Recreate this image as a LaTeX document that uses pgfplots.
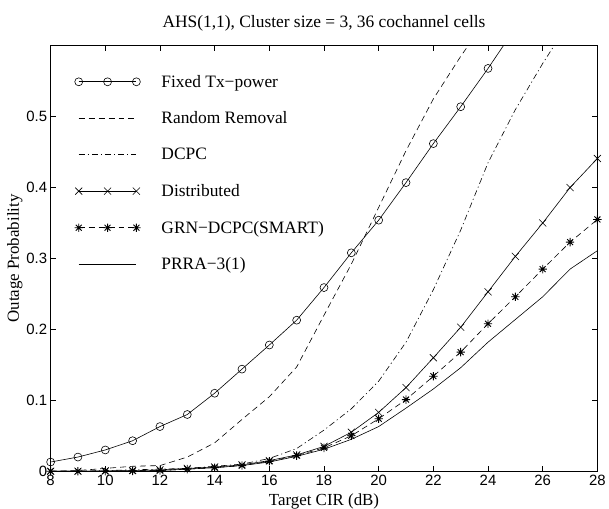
\documentclass[border=0pt]{standalone}
\usepackage{fontspec}
\setmainfont{Liberation Serif}
\setsansfont{Liberation Sans}
\usepackage{pgfplots}
\pgfplotsset{compat=1.18}
\pgfdeclareplotmark{mstar}{%
 \pgfpathmoveto{\pgfqpoint{\pgfplotmarksize}{0pt}}\pgfpathlineto{\pgfqpoint{-\pgfplotmarksize}{0pt}}%
 \pgfpathmoveto{\pgfqpoint{0pt}{\pgfplotmarksize}}\pgfpathlineto{\pgfqpoint{0pt}{-\pgfplotmarksize}}%
 \pgfpathmoveto{\pgfqpoint{0.707\pgfplotmarksize}{0.707\pgfplotmarksize}}\pgfpathlineto{\pgfqpoint{-0.707\pgfplotmarksize}{-0.707\pgfplotmarksize}}%
 \pgfpathmoveto{\pgfqpoint{-0.707\pgfplotmarksize}{0.707\pgfplotmarksize}}\pgfpathlineto{\pgfqpoint{0.707\pgfplotmarksize}{-0.707\pgfplotmarksize}}%
 \pgfusepathqstroke}
\begin{document}
\begin{tikzpicture}
\begin{axis}[
  scale only axis, width=550pt, height=428pt,
  xmin=8, xmax=28, ymin=0, ymax=0.6,
  xtick={8,10,12,14,16,18,20,22,24,26,28},
  ytick={0,0.1,0.2,0.3,0.4,0.5},
  tick align=inside, major tick length=5pt,
  tick style={black, line width=0.5pt},
  axis line style={black, line width=0.6pt},
  /pgf/number format/assume math mode=true,
  ticklabel style={font=\fontsize{15}{17}\sffamily},
  title={\rule{0pt}{28pt}AHS(1,1), Cluster size = 3, 36 cochannel cells},
  title style={font=\fontsize{17.5}{20}\selectfont, at={(axis description cs:0.5,1)}, anchor=base, yshift=12pt, inner sep=0pt},
  xlabel={Target CIR (dB)},
  ylabel={\rule{0pt}{19pt}Outage Probability},
  label style={font=\fontsize{17}{20}\selectfont},
  xlabel style={at={(axis description cs:0.5,0)}, anchor=base, yshift=-34pt, inner sep=0pt},
  ylabel style={at={(axis description cs:-0.058,0.5)}, anchor=base, inner sep=0pt},
  legend cell align=left,
  legend style={at={(axis description cs:0.038,0.941)}, anchor=north west,
    draw=none, fill=none, row sep=19.2pt, column sep=19pt,
    font=\fontsize{17.5}{20}\selectfont},
  legend image code/.code={\draw[mark repeat=1,mark phase=1,#1] plot coordinates {(0pt,0pt) (29pt,0pt) (58pt,0pt)};},
  every axis plot/.append style={black, line width=0.6pt},
]
\addplot[mark=o, mark size=4pt, mark options={solid}] coordinates {
(8,0.013)(9,0.020)(10,0.030)(11,0.043)(12,0.063)(13,0.080)(14,0.110)(15,0.144)(16,0.178)(17,0.213)(18,0.259)(19,0.308)(20,0.354)(21,0.407)(22,0.462)(23,0.514)(24,0.568)(25,0.625)};
\addlegendentry{Fixed Tx−power}
\addplot[mark=none, dash pattern=on 6pt off 4pt] coordinates {
(8,0)(9,0.001)(10,0.004)(11,0.007)(12,0.008)(13,0.020)(14,0.040)(15,0.073)(16,0.105)(17,0.147)(18,0.220)(19,0.292)(20,0.372)(21,0.452)(22,0.525)(23,0.585)(24,0.640)};
\addlegendentry{Random Removal}
\addplot[mark=none, dash pattern=on 6pt off 3pt on 1.2pt off 3pt] coordinates {
(8,0)(9,0)(10,0.001)(11,0.002)(12,0.003)(13,0.004)(14,0.007)(15,0.010)(16,0.018)(17,0.032)(18,0.058)(19,0.088)(20,0.127)(21,0.182)(22,0.256)(23,0.340)(24,0.435)(25,0.510)(26,0.575)(27,0.635)};
\addlegendentry{DCPC}
\addplot[mark=x, mark size=5pt, mark options={solid}] coordinates {
(8,0)(9,0)(10,0.0005)(11,0.001)(12,0.002)(13,0.004)(14,0.006)(15,0.009)(16,0.015)(17,0.023)(18,0.035)(19,0.055)(20,0.083)(21,0.118)(22,0.160)(23,0.203)(24,0.253)(25,0.303)(26,0.350)(27,0.400)(28,0.441)};
\addlegendentry{Distributed}
\addplot[dash pattern=on 6pt off 4pt, mark=mstar, mark size=4.2pt, mark options={solid, line width=0.9pt}] coordinates {
(8,0)(9,0)(10,0)(11,0.0005)(12,0.001)(13,0.003)(14,0.005)(15,0.008)(16,0.014)(17,0.022)(18,0.033)(19,0.050)(20,0.074)(21,0.101)(22,0.134)(23,0.168)(24,0.208)(25,0.246)(26,0.285)(27,0.323)(28,0.355)};
\addlegendentry{GRN−DCPC(SMART)}
\addplot[mark=none, solid] coordinates {
(8,0)(9,0)(10,0)(11,0)(12,0.001)(13,0.003)(14,0.005)(15,0.008)(16,0.013)(17,0.021)(18,0.031)(19,0.045)(20,0.063)(21,0.089)(22,0.116)(23,0.146)(24,0.182)(25,0.214)(26,0.246)(27,0.285)(28,0.311)};
\addlegendentry{PRRA−3(1)}
\end{axis}
\end{tikzpicture}
\end{document}
